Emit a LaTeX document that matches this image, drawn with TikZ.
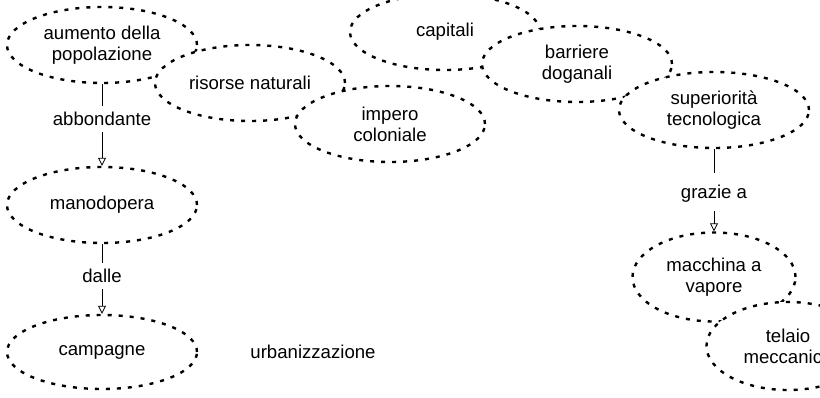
\documentclass[tikz,border=0pt]{standalone}
\usepackage{fontspec}
\setmainfont{Liberation Sans}
\usetikzlibrary{shapes.geometric,arrows.meta}

\begin{document}
\begin{tikzpicture}[x=1pt, y=-1pt,
    font=\fontsize{18.6}{21}\selectfont,
    idea/.style={ellipse, draw, fill=white, line width=2.4pt,
      dash pattern=on 4pt off 7pt,
      minimum width=190pt, minimum height=76pt, align=center},
    link/.style={text height=16pt, text depth=4pt, inner xsep=2pt,
      inner ysep=3pt, anchor=base},
    flow/.style={line width=0.8pt, -{Triangle[open, length=8pt, width=8pt]}}]
  \useasboundingbox (0,0) rectangle (820,397);

  % Concepts, upper row
  \node[idea] (aumento) at (102,45) {aumento della\\popolazione};
  \node[idea] (risorse) at (250,83) {risorse naturali};
  \node[idea] (impero) at (390,124) {impero\\coloniale};
  \node[idea] (capitali) at (445,32) {capitali};
  \node[idea] (barriere) at (577,64) {barriere\\doganali};
  \node[idea] (superiorita) at (714,110) {superiorità\\tecnologica};

  % Concepts, lower part
  \node[idea] (manodopera) at (102,205) {manodopera};
  \node[idea, minimum height=74pt] (campagne) at (102,352) {campagne};
  \node[idea, minimum width=163pt, minimum height=89pt] (macchina) at (714,277) {macchina a\\vapore};
  \node[idea, minimum width=163pt, minimum height=88pt] (telaio) at (788,346) {telaio\\meccanico};
  \node (urbanizzazione) at (313,352) {urbanizzazione};

  % Linking phrases
  \node[link] (abbondante) at (102,125) {abbondante};
  \node[link] (dalle) at (102,282) {dalle};
  \node[link, inner ysep=9pt] (grazie) at (714,198) {grazie a};

  % Connections
  \draw[line width=0.8pt] (aumento) -- (abbondante);
  \draw[flow] (abbondante) -- (manodopera);
  \draw[line width=0.8pt] (manodopera) -- (dalle);
  \draw[flow] (dalle) -- (campagne);
  \draw[line width=0.8pt] (superiorita) -- (grazie);
  \draw[flow] (grazie) -- (macchina);
\end{tikzpicture}
\end{document}
